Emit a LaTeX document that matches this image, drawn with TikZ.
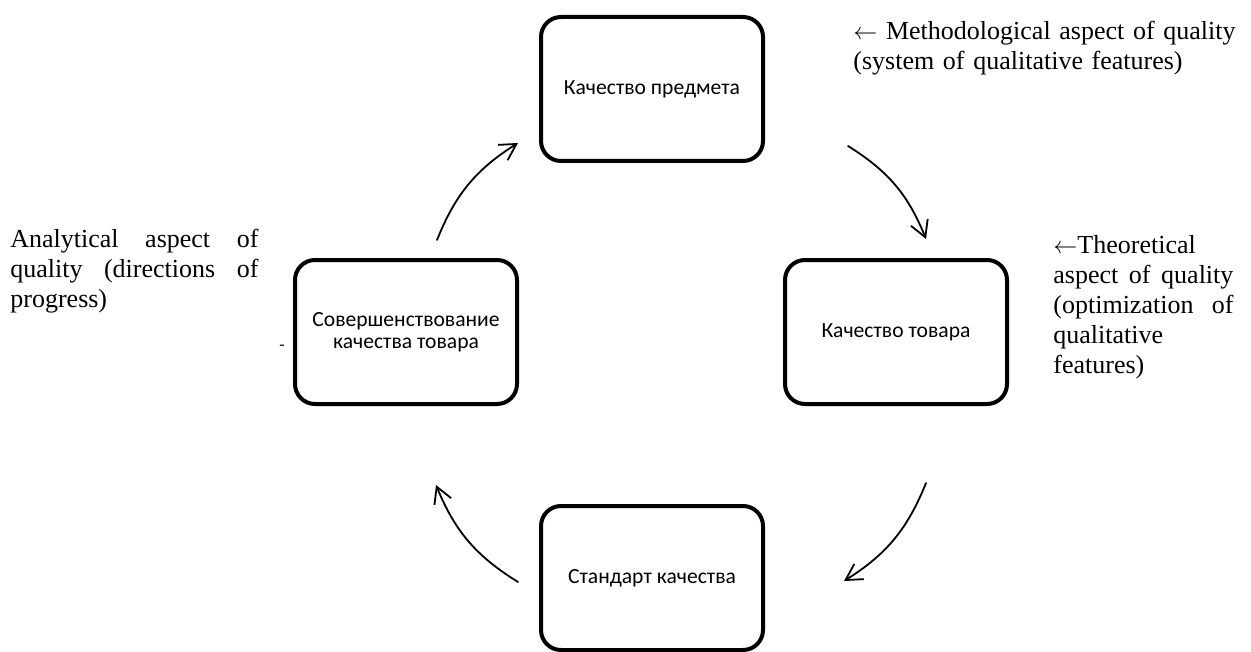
\documentclass[tikz,border=0pt]{standalone}
\usepackage{fontspec}
\setmainfont{Liberation Serif}
\newfontfamily\boxfont{Carlito}
\usetikzlibrary{arrows.meta}

\begin{document}
\begin{tikzpicture}[x=0.5pt, y=-0.5pt, line join=round,
  main node/.style={rectangle, rounded corners=10pt, draw, line width=2pt, minimum width=111pt, minimum height=72pt, inner sep=2pt, align=center, font=\boxfont\fontsize{10.8}{11}\selectfont},
  note/.style={anchor=base west, inner sep=0pt, align=left, font=\fontsize{13}{15}\selectfont},
  cycle arrow/.style={line width=0.9pt, line cap=round, -{Straight Barb[length=8pt,width=9pt]}, bend left=18}]
\useasboundingbox (0,0) rectangle (1251,652);
\begin{scope}
\node[main node] (top) at (652,89) {Качество предмета};
\node[main node] (right) at (896,332) {Качество товара};
\node[main node] (bottom) at (652,578) {Стандарт качества};
\node[main node] (left) at (406,332) {Совершенствование\\качества товара};

\node[note, text width=200pt] (methnote) at (853,40) {$\leftarrow$ Methodological aspect of quality\\(system of qualitative features)};
\node[note, text width=90pt] (theonote) at (1053,253) {$\leftarrow$Theoretical\\\leavevmode\hbox to 90pt{aspect\hfill of\hfill quality}\\\leavevmode\hbox to 90pt{(optimization\hfill of}\\qualitative\\features)};
\node[note, text width=124pt] (analnote) at (10,247) {\leavevmode\hbox to 124pt{Analytical\hfill aspect\hfill of}\\\leavevmode\hbox to 124pt{quality\hfill (directions\hfill of}\\progress)};
\node[inner sep=0pt, font=\fontsize{8}{8}\selectfont] (dash) at (282,347) {-};
%\node[main node] (x) at (,) {};
\end{scope}
\begin{scope}
\coordinate (s1) at (437,240); \coordinate (e1) at (518,143);
\coordinate (s2) at (848,146); \coordinate (e2) at (926,239);
\coordinate (s3) at (926,483); \coordinate (e3) at (844,581);
\coordinate (s4) at (518,582); \coordinate (e4) at (436,485);
\draw (s1) edge[cycle arrow] (e1);
\draw (s2) edge[cycle arrow] (e2);
\draw (s3) edge[cycle arrow] (e3);
\draw (s4) edge[cycle arrow] (e4);
\end{scope}
\end{tikzpicture}
\end{document}
